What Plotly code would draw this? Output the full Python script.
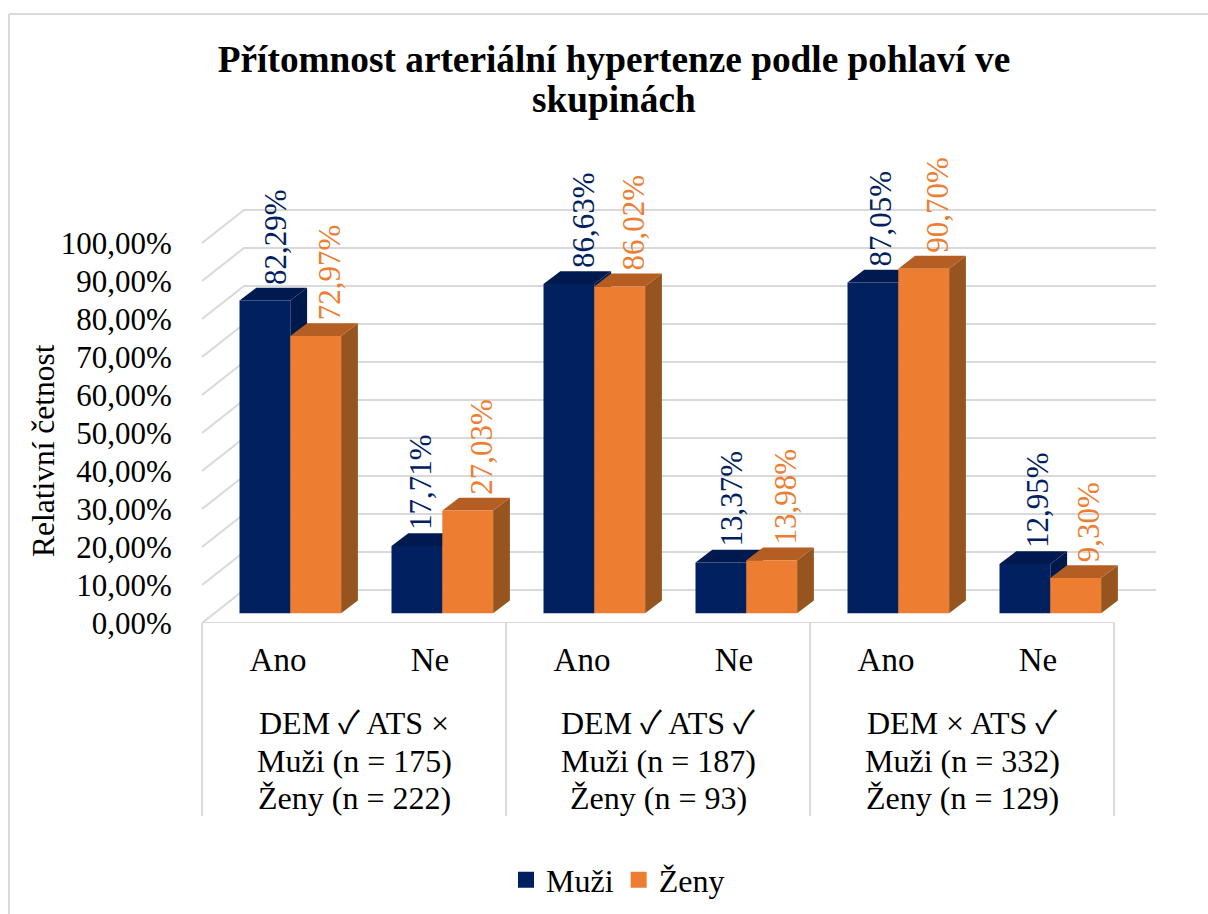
import plotly.graph_objects as go

# --- data ---
muzi = [82.29, 17.71, 86.63, 13.37, 87.05, 12.95]
zeny = [72.97, 27.03, 86.02, 13.98, 90.70, 9.30]
answers = ["Ano", "Ne", "Ano", "Ne", "Ano", "Ne"]
group_lines = [
    ["DEM ✓ ATS ×", "Muži (n = 175)", "Ženy (n = 222)"],
    ["DEM ✓ ATS ✓", "Muži (n = 187)", "Ženy (n = 93)"],
    ["DEM × ATS ✓", "Muži (n = 332)", "Ženy (n = 129)"],
]
y_ticks = list(range(0, 101, 10))
y_ticktext = [f"{v},00%" for v in y_ticks]
title_line1 = "Přítomnost arteriální hypertenze podle pohlaví ve"
title_line2 = "skupinách"

# --- style ---
NAVY, NAVY_TOP, NAVY_SIDE = "#002060", "#001A4F", "#00194B"
ORANGE, ORANGE_TOP, ORANGE_SIDE = "#ED7D31", "#B55E24", "#96541F"
GRID = "#D9D9D9"
FONT = "Liberation Serif, Noto Sans CJK JP"
W, H = 1208, 914
ML, MR, MT, MB = 190, 48, 140, 291
PX_X, PX_Y = 152.0, 3.8         # pixels per category / per percent
plot_h = H - MT - MB
plot_w = W - ML - MR
x0 = -0.5 - 12 / PX_X
x1 = x0 + plot_w / PX_X
y1 = plot_h / PX_Y
wall_dx, wall_dy = 42 / PX_X, 33 / PX_Y      # depth of the floor
bar_dx, bar_dy = 16.8 / PX_X, 12.8 / PX_Y    # depth of a bar
bar_base = 9.7 / PX_Y                        # front of bars above the front floor edge
bar_shift = 12.3 / PX_X                      # bars pushed right by the perspective
bar_w = 50.8 / PX_X
muzi_label_nudge = [10.5, 3, 14, 11, 8, 12]  # horizontal label offsets, px
zeny_label_nudge = [13.5, 13.5, 13.5, 13.5, 13.5, 13.5]
positions = list(range(len(answers)))


def ypaper(px):
    return (H - MB - px) / plot_h


def xpaper(px):
    return (px - ML) / plot_w


def poly(points, fill):
    path = "M" + " L".join(f"{a},{b}" for a, b in points) + " Z"
    return dict(type="path", path=path, xref="x", yref="y", layer="below",
                fillcolor=fill, line=dict(width=0))


shapes = []
# chart frame
shapes.append(dict(type="line", xref="paper", yref="paper", layer="below",
                   x0=xpaper(9), x1=xpaper(W), y0=ypaper(14), y1=ypaper(14),
                   line=dict(color=GRID, width=2)))
shapes.append(dict(type="line", xref="paper", yref="paper", layer="below",
                   x0=xpaper(9), x1=xpaper(9), y0=ypaper(14), y1=ypaper(H),
                   line=dict(color=GRID, width=2)))
# walls
for v in y_ticks:
    bx = -0.5 + wall_dx
    shapes.append(dict(type="path", xref="x", yref="y", layer="below",
                       path=f"M-0.5,{v} L{bx},{v + wall_dy} L{bx + 6},{v + wall_dy}",
                       line=dict(color=GRID, width=2)))
# category axis frame
shapes.append(dict(type="line", xref="x", yref="y", layer="below", x0=-0.5, x1=5.5, y0=0, y1=0,
                   line=dict(color=GRID, width=2)))
for xv in [-0.5, 1.5, 3.5, 5.5]:
    shapes.append(dict(type="line", xref="x", yref="paper", layer="below", x0=xv, x1=xv,
                       y0=ypaper(623), y1=ypaper(816), line=dict(color=GRID, width=2)))
# 3-D top and side faces, derived from the values
for values, slot, top, side in ((muzi, -1, NAVY_TOP, NAVY_SIDE), (zeny, 0, ORANGE_TOP, ORANGE_SIDE)):
    for p, v in zip(positions, values):
        l = p + bar_shift + slot * bar_w
        r = l + bar_w
        t = bar_base + v
        shapes.append(poly([(r, bar_base), (r + bar_dx, bar_base + bar_dy),
                            (r + bar_dx, t + bar_dy), (r, t)], side))
        shapes.append(poly([(l, t), (l + bar_dx, t + bar_dy), (r + bar_dx, t + bar_dy), (r, t)], top))

fig = go.Figure()
bar_x = [p + bar_shift for p in positions]
fig.add_bar(x=bar_x, y=muzi, base=bar_base, name="Muži", marker=dict(color=NAVY, line=dict(width=0)),
            showlegend=False)
fig.add_bar(x=bar_x, y=zeny, base=bar_base, name="Ženy", marker=dict(color=ORANGE, line=dict(width=0)),
            showlegend=False)
# legend entries
for name, col in (("Muži", NAVY), ("Ženy", ORANGE)):
    fig.add_scatter(x=[None], y=[None], mode="markers", name=name,
                    marker=dict(symbol="square", size=16, color=col))

annotations = []
for values, slot, col, nudges in ((muzi, -0.5, NAVY, muzi_label_nudge), (zeny, 0.5, ORANGE, zeny_label_nudge)):
    for p, v, n in zip(positions, values, nudges):
        annotations.append(dict(x=p + bar_shift + slot * bar_w + n / PX_X, y=bar_base + v,
                                xref="x", yref="y", text=f"{v:.2f}%".replace(".", ","),
                                textangle=-90, showarrow=False, xanchor="center", yanchor="bottom",
                                yshift=15, borderpad=0, font=dict(family=FONT, size=31, color=col)))
for g, lines in enumerate(group_lines):
    for ln, py in zip(lines, (723, 761, 798)):
        annotations.append(dict(x=0.5 + 2 * g, y=ypaper(py), xref="x", yref="paper", text=ln,
                                showarrow=False, xanchor="center", yanchor="middle",
                                font=dict(family=FONT, size=32, color="black")))
annotations.append(dict(x=xpaper(43), y=ypaper(451), xref="paper", yref="paper",
                        text="Relativní četnost", textangle=-90, showarrow=False,
                        xanchor="center", yanchor="middle",
                        font=dict(family=FONT, size=31.5, color="black")))
annotations.append(dict(x=xpaper(614), y=ypaper(100), xref="paper", yref="paper",
                        text=title_line2, showarrow=False, xanchor="center", yanchor="middle",
                        font=dict(family=FONT, size=37.3, color="black", weight="bold")))

fig.update_layout(
    width=W, height=H, autosize=False,
    margin=dict(l=ML, r=MR, t=MT, b=MB, pad=0),
    paper_bgcolor="white", plot_bgcolor="rgba(0,0,0,0)",
    barmode="group", bargap=1 - 2 * bar_w, bargroupgap=0,
    font=dict(family=FONT, size=31, color="black"),
    title=dict(text=title_line1, x=614 / W, xanchor="center", y=1 - 59 / H, yanchor="middle",
               font=dict(family=FONT, size=37.3, color="black", weight="bold")),
    xaxis=dict(range=[x0, x1], tickmode="array", tickvals=positions, ticktext=answers,
               showgrid=False, zeroline=False, showline=False, ticks="outside", ticklen=7,
               tickcolor="rgba(0,0,0,0)", tickangle=0, tickfont=dict(family=FONT, size=33)),
    yaxis=dict(range=[0, y1], tickmode="array", tickvals=y_ticks, ticktext=y_ticktext,
               showgrid=False, zeroline=False, showline=False, ticks="outside", ticklen=11,
               tickcolor="rgba(0,0,0,0)", tickfont=dict(family=FONT, size=31)),
    legend=dict(orientation="h", xref="container", yref="container",
                x=506 / W, xanchor="left", y=1 - 880 / H, yanchor="middle",
                font=dict(family=FONT, size=32), bgcolor="rgba(0,0,0,0)", itemwidth=30),
    shapes=shapes, annotations=annotations,
)
fig.write_html("out.html", config=dict(displayModeBar=False),
               post_script="document.body.style.margin='0';")
